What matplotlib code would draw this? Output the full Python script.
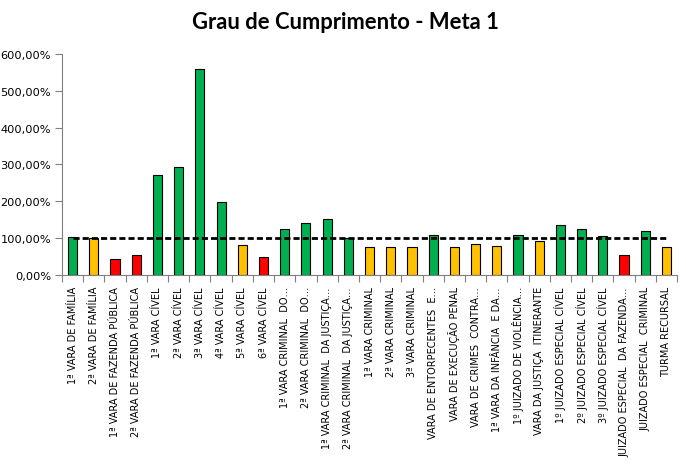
import numpy as np
import matplotlib
matplotlib.use('Agg')
import matplotlib.pyplot as plt
from matplotlib.ticker import FuncFormatter

# Dados
unidades = [
    '1ª VARA DE FAMÍLIA', '2ª VARA DE FAMÍLIA', '1ª VARA DE FAZENDA PÚBLICA',
    '2ª VARA DE FAZENDA PÚBLICA', '1ª VARA CÍVEL', '2ª VARA CÍVEL', '3ª VARA CÍVEL',
    '4ª VARA CÍVEL', '5ª VARA CÍVEL', '6ª VARA CÍVEL', '1ª VARA CRIMINAL  DO…',
    '2ª VARA CRIMINAL  DO…', '1ª VARA CRIMINAL  DA JUSTIÇA…', '2ª VARA CRIMINAL  DA JUSTIÇA…',
    '1ª VARA CRIMINAL', '2ª VARA CRIMINAL', '3ª VARA CRIMINAL', 'VARA DE ENTORPECENTES  E…',
    'VARA DE EXECUÇÃO PENAL', 'VARA DE CRIMES  CONTRA…', '1ª VARA DA INFÂNCIA  E DA…',
    '1º JUIZADO DE VIOLÊNCIA…', 'VARA DA JUSTIÇA  ITINERANTE', '1º JUIZADO ESPECIAL CÍVEL',
    '2º JUIZADO ESPECIAL CÍVEL', '3º JUIZADO ESPECIAL CÍVEL', 'JUIZADO ESPECIAL  DA FAZENDA…',
    'JUIZADO ESPECIAL  CRIMINAL', 'TURMA RECURSAL',
]
cumprimento = [103, 99.5, 43, 54, 271, 292, 560, 198, 81, 49, 124.5, 141, 152, 101,
               76, 76, 76, 108, 76, 84, 78.5, 108, 92, 135, 124.5, 105.5, 54, 119, 76]
meta = [100] * len(unidades)

VERDE = '#00B050'
AMARELO = '#FFC000'
VERMELHO = '#FF0000'
cores = []
for v in cumprimento:
    if v >= 100:
        cores.append(VERDE)
    elif v >= 60:
        cores.append(AMARELO)
    else:
        cores.append(VERMELHO)

fig = plt.figure(figsize=(6.86, 4.77), dpi=100)
ax = fig.add_axes([0.0904, 0.4214, 0.8966, 0.4633])

x = np.arange(len(unidades))
ax.bar(x, cumprimento, width=0.43, color=cores, edgecolor='black', linewidth=0.8, zorder=2)
ax.plot(x, meta, color='black', linestyle=(0, (2.2, 1.1)), linewidth=2, zorder=3)

ax.set_ylim(0, 600)
ax.set_xlim(-0.5, len(unidades) - 0.5)
ax.set_yticks(np.arange(0, 601, 100))
ax.yaxis.set_major_formatter(FuncFormatter(lambda v, p: f'{v:.2f}%'.replace('.', ',')))
ax.tick_params(axis='y', labelsize=8.2, length=5, color='#808080', pad=3)

ax.set_xticks(np.arange(-0.5, len(unidades), 1), minor=False)
ax.set_xticklabels([])
ax.set_xticks(x, minor=True)
ax.set_xticklabels(unidades, minor=True, rotation=90, fontsize=7)
ax.tick_params(axis='x', which='major', length=5, color='#808080')
ax.tick_params(axis='x', which='minor', length=0, pad=8)

for lado in ['top', 'right']:
    ax.spines[lado].set_visible(False)
ax.spines['left'].set_color('#808080')
ax.spines['bottom'].set_color('#808080')

fig.text(0.503, 0.953, 'Grau de Cumprimento - Meta 1', ha='center', va='center',
         fontsize=15.8, fontweight='bold', family='Lato')

plt.savefig('out.png', dpi=100)
